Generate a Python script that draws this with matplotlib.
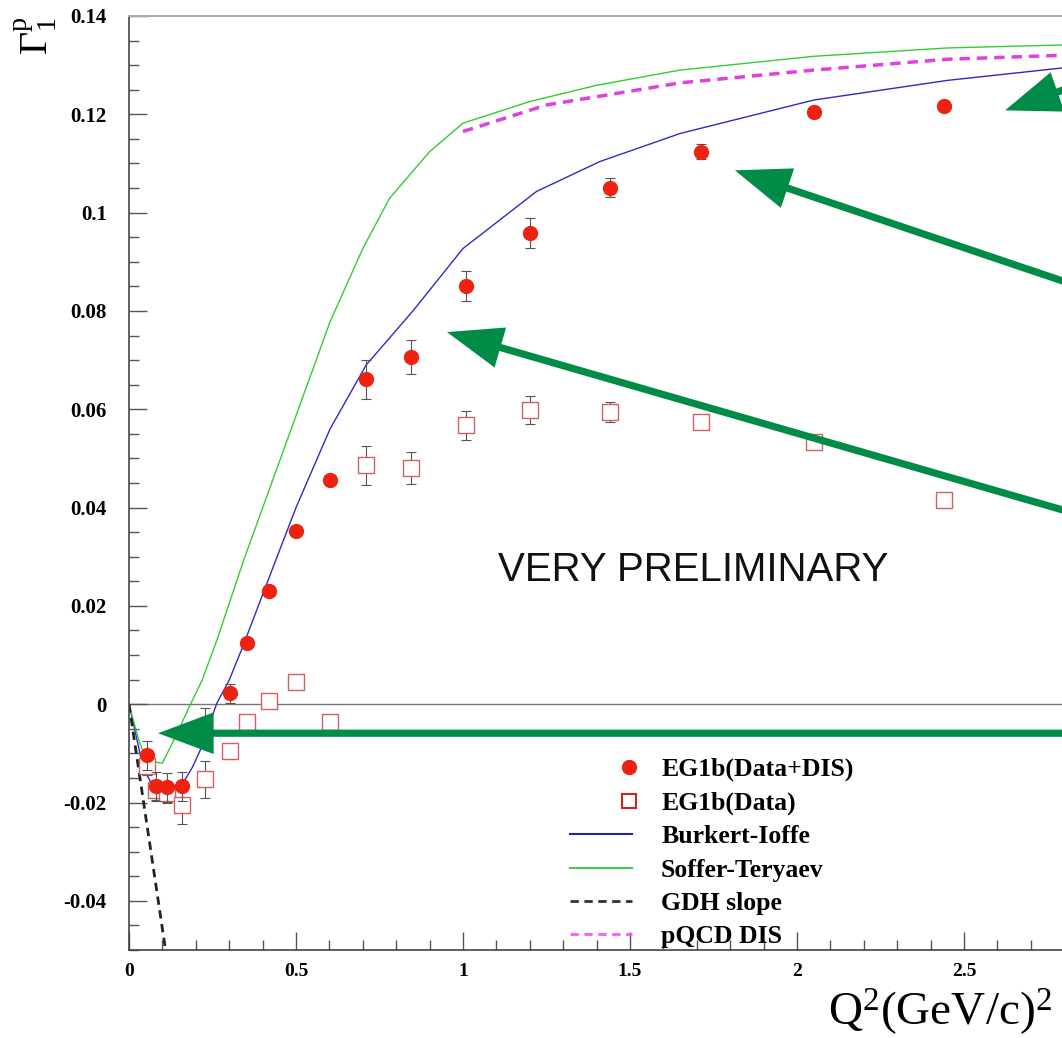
"""Gamma_1^p vs Q^2 : EG1b preliminary data with model curves."""
import numpy as np
import matplotlib
matplotlib.use("Agg")
import matplotlib.pyplot as plt
from matplotlib.lines import Line2D
from matplotlib.legend_handler import HandlerLine2D
from matplotlib.font_manager import FontProperties
from matplotlib.ticker import MultipleLocator

plt.rcParams["mathtext.fontset"] = "custom"
plt.rcParams["mathtext.rm"] = "Liberation Serif"
plt.rcParams["mathtext.it"] = "Liberation Serif:italic"
plt.rcParams["mathtext.bf"] = "Liberation Serif:bold"

# ---- data ----
q2 = [0.054, 0.081, 0.114, 0.159, 0.228, 0.302, 0.353, 0.419, 0.500, 0.602,
      0.710, 0.844, 1.009, 1.201, 1.440, 1.713, 2.051, 2.440]
g1_full = [-0.0104, -0.0167, -0.0169, -0.0167, -0.0043, 0.0022, 0.0124, 0.0231,
           0.0353, 0.0457, 0.0661, 0.0706, 0.0851, 0.0959, 0.1051, 0.1124,
           0.1204, 0.1216]
g1_full_err = [0.003, 0.003, 0.003, 0.003, 0.0036, 0.002, 0.001, 0.001, 0.001,
               0.001, 0.004, 0.0034, 0.003, 0.003, 0.002, 0.0015, 0.001, 0.0008]
g1_data = [-0.0125, -0.0175, -0.0180, -0.0206, -0.0153, -0.0096, -0.0037, 0.0006,
           0.0045, -0.0037, 0.0486, 0.0480, 0.0567, 0.0598, 0.0594, 0.0575,
           0.0533, 0.0416]
g1_data_err = [0.002, 0.002, 0.002, 0.0037, 0.0038, 0.0015, 0.001, 0.001, 0.001,
               0.001, 0.004, 0.0033, 0.003, 0.0028, 0.002, 0.0012, 0.001, 0.0008]

bi_q2 = [0.0, 0.02, 0.042, 0.07, 0.10, 0.114, 0.13, 0.162, 0.19, 0.213, 0.263,
         0.30, 0.34, 0.44, 0.50, 0.602, 0.71, 0.85, 1.0, 1.22, 1.41, 1.65, 2.05,
         2.45, 2.79, 3.0]
bi_g1 = [0.0, -0.006, -0.0129, -0.0165, -0.0183, -0.0186, -0.0182, -0.016,
         -0.0128, -0.0094, 0.0002, 0.0049, 0.0116, 0.0294, 0.040, 0.056, 0.069,
         0.080, 0.0927, 0.1043, 0.1104, 0.1161, 0.1229, 0.1269, 0.1294, 0.1305]

st_q2 = [0.0, 0.03, 0.054, 0.10, 0.14, 0.18, 0.219, 0.263, 0.344, 0.45, 0.602,
         0.70, 0.78, 0.90, 1.0, 1.2, 1.4, 1.65, 2.05, 2.45, 2.79, 3.0]
st_g1 = [0.0, -0.0075, -0.0115, -0.012, -0.0065, -0.0006, 0.0049, 0.013, 0.0294,
         0.0493, 0.0778, 0.0927, 0.1029, 0.1124, 0.1182, 0.1226, 0.1259, 0.129,
         0.1318, 0.1335, 0.1341, 0.1344]

pq_q2 = [1.0, 1.25, 1.5, 1.65, 2.05, 2.45, 2.79, 3.0]
pq_g1 = [0.1165, 0.1219, 0.1247, 0.1264, 0.129, 0.1312, 0.132, 0.1326]

gdh_q2 = [0.0, 0.13]
gdh_g1 = [0.0, -0.0594]

xticks = [0, 0.5, 1, 1.5, 2, 2.5]
xtick_labels = ["0", "0.5", "1", "1.5", "2", "2.5"]
yticks = [-0.04, -0.02, 0, 0.02, 0.04, 0.06, 0.08, 0.1, 0.12, 0.14]
ytick_labels = ["-0.04", "-0.02", "0", "0.02", "0.04", "0.06", "0.08", "0.1",
                "0.12", "0.14"]

# arrows (tip, tail) in data coords; tails run off the right edge
arrow_tips = [(2.623, 0.1208), (1.814, 0.1086), (0.952, 0.0757), (0.087, -0.0059)]
arrow_tails = [(3.0, 0.1298), (3.0, 0.0814), (3.0, 0.0355), (3.0, -0.0059)]


class EndMarker(HandlerLine2D):
    """legend marker drawn at the right end of the handle."""
    def get_xdata(self, legend, xdescent, ydescent, width, height, fontsize):
        x = -xdescent + width - 1.5
        return [x, x], [x]


W, H = 1062, 1038
fig = plt.figure(figsize=(W / 100, H / 100), dpi=100)
ax = fig.add_axes([129 / W, (H - 950) / H, (1131 - 129) / W, (950 - 16) / H])
ax.set_xlim(0, 3)
ax.set_ylim(-0.05, 0.14)

ax.axhline(0, color="#777777", lw=1.0, zorder=1)

ax.plot(bi_q2, bi_g1, color="#2b2bc8", lw=1.0, zorder=2)
ax.plot(st_q2, st_g1, color="#33cc33", lw=1.0, zorder=2)
ax.plot(pq_q2, pq_g1, color="#e040e0", lw=2.5, dashes=(3, 2), zorder=2)
ax.plot(gdh_q2, gdh_g1, color="#222222", lw=2.0, dashes=(3, 2), zorder=2)

ax.errorbar(q2, g1_data, yerr=g1_data_err, fmt="none", ecolor="#555555",
            elinewidth=0.8, capsize=3.5, capthick=0.8, zorder=3)
ax.plot(q2, g1_data, "s", ms=11, mfc="white", mec="#d06060", mew=1.0, zorder=4)
ax.errorbar(q2, g1_full, yerr=g1_full_err, fmt="none", ecolor="#555555",
            elinewidth=0.8, capsize=3.5, capthick=0.8, zorder=5)
ax.plot(q2, g1_full, "o", ms=10, color="#ee2211", mec="#ee2211", zorder=6)

for tip, tail in zip(arrow_tips, arrow_tails):
    ax.annotate("", xy=tip, xytext=tail, annotation_clip=False, zorder=7,
                arrowprops=dict(arrowstyle="simple,head_length=1.0,head_width=0.75,tail_width=0.13",
                                mutation_scale=40, color="#008c46", lw=0,
                                shrinkA=0, shrinkB=0))

ax.text(1.689, 0.0273, "VERY PRELIMINARY", ha="center", va="center",
        fontsize=29, family="Liberation Sans", color="#111111")

# legend
h_full = Line2D([], [], ls="none", marker="o", ms=10, color="#ee2211")
h_data = Line2D([], [], ls="none", marker="s", ms=10, mfc="white", mec="#cc2222", mew=1.5)
h_bi = Line2D([], [], color="#2222aa", lw=1.5)
h_st = Line2D([], [], color="#44cc44", lw=1.5)
h_gdh = Line2D([], [], color="#333333", lw=2.0, dashes=(3, 2))
h_pq = Line2D([], [], color="#ff55ff", lw=2.0, dashes=(3, 2))
ax.legend([h_full, h_data, h_bi, h_st, h_gdh, h_pq],
          ["EG1b(Data+DIS)", "EG1b(Data)", "Burkert-Ioffe", "Soffer-Teryaev",
           "GDH slope", "pQCD DIS"],
          handler_map={h_full: EndMarker(), h_data: EndMarker()},
          loc="upper left", bbox_to_anchor=(0.44, 0.2056), frameon=False,
          prop=FontProperties(family="Liberation Serif", weight="bold", size=18.5),
          handlelength=2.4, handletextpad=1.15, labelspacing=0.4,
          borderpad=0, borderaxespad=0)

# axes styling
ax.set_xticks(xticks, labels=xtick_labels, fontsize=14, fontweight="bold",
              fontfamily="Liberation Serif")
ax.set_yticks(yticks, labels=ytick_labels, fontsize=15, fontweight="bold",
              fontfamily="Liberation Serif")
ax.xaxis.set_minor_locator(MultipleLocator(0.1))
ax.yaxis.set_minor_locator(MultipleLocator(0.005))
ax.tick_params(which="both", direction="in", top=False, right=False,
               color="#555555", width=1.0)
ax.tick_params(which="major", length=13)
ax.tick_params(which="minor", length=7)
ax.tick_params(axis="y", pad=16)
ax.tick_params(axis="x", pad=9)
for side in ("left", "bottom"):
    ax.spines[side].set_color("#444444")
    ax.spines[side].set_linewidth(1.2)
ax.spines["top"].set_color("#aaaaaa")
ax.spines["top"].set_linewidth(1.5)
ax.spines["right"].set_visible(False)

fig.text(828 / W, 1 - 1012 / H, r"Q$^{\mathregular{2}}$(GeV/c)$^{\mathregular{2}}$",
         fontsize=34, family="Liberation Serif", ha="left", va="center")
fig.text(35 / W, 1 - 36 / H, r"$\mathrm{\Gamma}_\mathrm{1}^\mathrm{p}$",
         fontsize=29, rotation=90, ha="center", va="center")

fig.savefig("out.png", dpi=100)
